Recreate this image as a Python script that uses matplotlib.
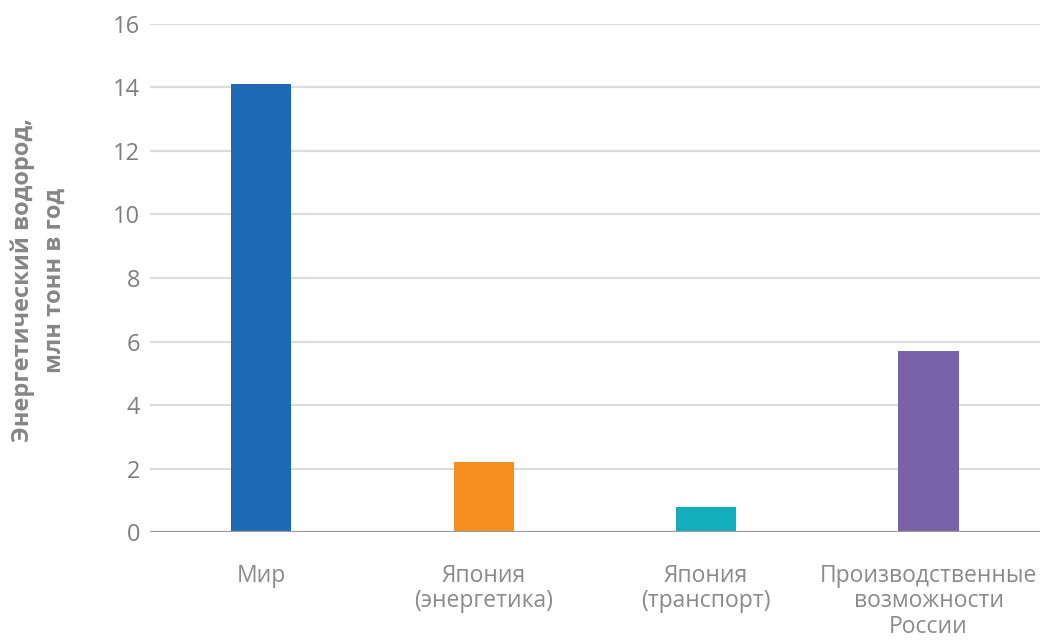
import matplotlib.pyplot as plt
import numpy as np

# Данные графика
categories = ['Мир', 'Япония\n(энергетика)', 'Япония\n(транспорт)',
              'Производственные\nвозможности\nРоссии']
values = [14.1, 2.2, 0.8, 5.7]
colors = ['#1f69b4', '#f68e1f', '#13adbd', '#7a62a9']
yticks = [0, 2, 4, 6, 8, 10, 12, 14, 16]

plt.rcParams['font.family'] = ['Open Sans', 'DejaVu Sans']

fig = plt.figure(figsize=(10.46, 6.43), dpi=100)
ax = fig.add_axes([0.1434, 0.1726, 0.8506, 0.7901])

x = np.arange(len(categories))
ax.bar(x, values, width=0.27, color=colors, zorder=3)

ax.set_xlim(-0.5, 3.5)
ax.set_ylim(0, 16)
ax.set_yticks(yticks)
ax.set_xticks(x)
ax.set_xticklabels(categories, fontsize=16.5, color='#8a8a8a', linespacing=1.08)
ax.tick_params(axis='x', length=0, pad=23)
ax.tick_params(axis='y', length=0, pad=7, labelsize=17, labelcolor='#7f7f7f')

# сетка
for t in yticks[1:]:
    ax.axhline(t, color='#dcdcdc', lw=1.6, zorder=1)
ax.axhline(0, color='#9a9a9a', lw=1.6, zorder=4)

for s in ax.spines.values():
    s.set_visible(False)

ax.set_ylabel('Энергетический водород,\nмлн тонн в год', fontsize=17,
              fontweight='bold', color='#868686', linespacing=1.4, va='center')
ax.yaxis.set_label_coords(-0.125, 0.496)

fig.savefig('out.png', dpi=100)
